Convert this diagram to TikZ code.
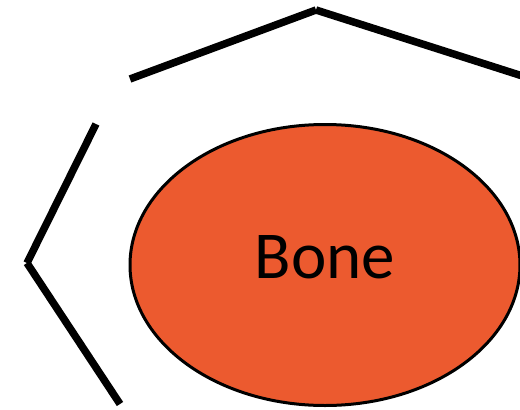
\documentclass[tikz,border=0pt]{standalone}
\usepackage{fontspec}
\setmainfont{Carlito}
\usetikzlibrary{shapes.geometric}
\begin{document}
\begin{tikzpicture}[x=1pt,y=-1pt,
  wall/.style={line width=7.5pt, line cap=butt},
  bonestyle/.style={ellipse, draw=black, line width=3pt, fill=bonefill,
    minimum width=390pt, minimum height=281pt, inner sep=0pt,
    font=\fontsize{67}{67}\selectfont}]
\definecolor{bonefill}{HTML}{EC5A2F}
\useasboundingbox (0,0) rectangle (520,410);
\clip (0,0) rectangle (520,410);
\node[bonestyle] (bone) at (325,265) {\raisebox{-13pt}[0pt][0pt]{Bone}};
\coordinate (t1) at (130,79);
\coordinate (t2) at (316,10);
\coordinate (t3) at (560,88);
\coordinate (l1) at (96,124);
\coordinate (l2) at (27,263);
\coordinate (l3) at (120,404);
\draw[wall] (t1) -- (t2);
\draw[wall] (t2) -- (t3);
\draw[wall] (l1) -- (l2);
\draw[wall] (l2) -- (l3);
\end{tikzpicture}
\end{document}
